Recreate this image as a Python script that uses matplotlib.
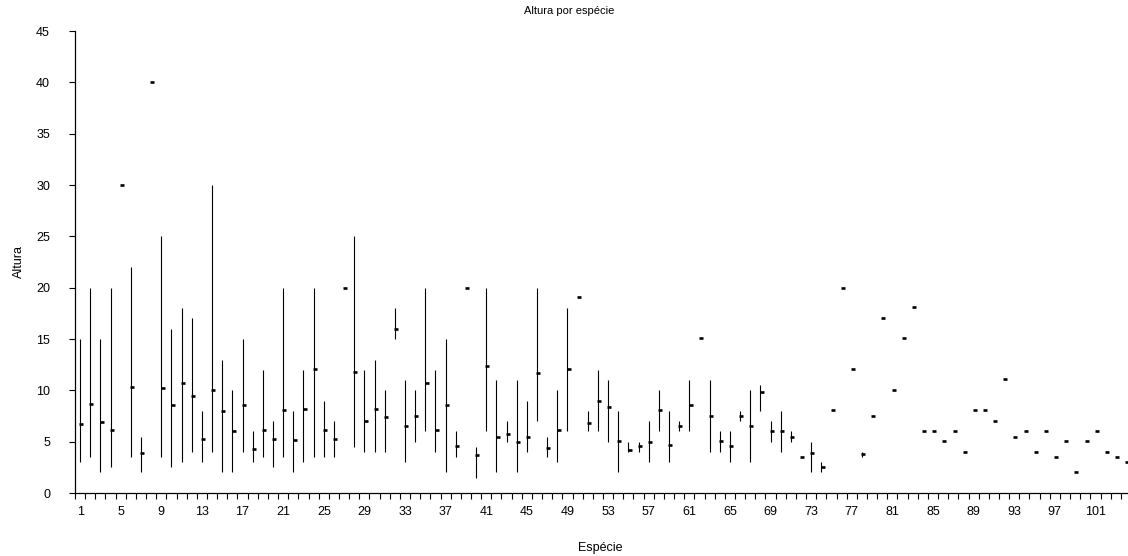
import numpy as np
import matplotlib
matplotlib.use("Agg")
import matplotlib.pyplot as plt

plt.rcParams['font.family'] = ['Liberation Sans', 'DejaVu Sans']

# espécies 1..104 : mínimo, máximo, média (nan = só um valor)
nan = np.nan
especie = np.arange(1, 105)
minimo = [3, 3.5, 2, 2.5, nan, 3.5, 2, nan, 3.5, 2.5,
          3, 4, 3, 4, 2, 2, 4, 3, 3.5, 2.5,
          3.5, 2, 3, 3.5, 3.5, 3.5, nan, 4.5, 4, 4,
          4, 15, 3, 5, 6, 4, 2, 3.5, nan, 1.5,
          6, 2, 5, 2, 4, 7, 3.5, 3, 6, nan,
          6, 6, 5, 2, 4, 4, 3, 6, 3, 6,
          6, nan, 4, 4, 3, 7, 3, 8, 5, 4,
          5, nan, 2, 2, nan, nan, nan, 3.5, nan, nan,
          nan, nan, nan, nan, nan, nan, nan, nan, nan, nan,
          nan, nan, nan, nan, nan, nan, nan, nan, nan, nan,
          nan, nan, nan, nan]
maximo = [15, 20, 15, 20, nan, 22, 5.5, nan, 25, 16,
          18, 17, 8, 30, 13, 10, 15, 6, 12, 7,
          20, 8, 12, 20, 9, 7, nan, 25, 12, 13,
          10, 18, 11, 10, 20, 12, 15, 6, nan, 4.5,
          20, 11, 7, 11, 9, 20, 5.5, 10, 18, nan,
          8, 12, 11, 8, 5, 5, 7, 10, 8, 7,
          11, nan, 11, 6, 6, 8, 10, 10.5, 7, 8,
          6, nan, 5, 3, nan, nan, nan, 4, nan, nan,
          nan, nan, nan, nan, nan, nan, nan, nan, nan, nan,
          nan, nan, nan, nan, nan, nan, nan, nan, nan, nan,
          nan, nan, nan, nan]
media = [6.7, 8.7, 6.9, 6.1, 30, 10.3, 3.9, 40, 10.2, 8.6,
         10.7, 9.4, 5.3, 10.0, 8.0, 6.0, 8.6, 4.3, 6.1, 5.3,
         8.1, 5.2, 8.2, 12.1, 6.1, 5.3, 20, 11.8, 7.0, 8.2,
         7.4, 16.0, 6.5, 7.5, 10.7, 6.1, 8.6, 4.6, 20, 3.7,
         12.4, 5.5, 5.7, 5.0, 5.5, 11.7, 4.4, 6.1, 12.1, 19.1,
         6.8, 9.0, 8.4, 5.1, 4.2, 4.6, 5.0, 8.1, 4.7, 6.5,
         8.6, 15.1, 7.5, 5.1, 4.6, 7.5, 6.5, 9.8, 6.0, 6.0,
         5.5, 3.5, 3.9, 2.5, 8.1, 20, 12.1, 3.8, 7.5, 17,
         10, 15.1, 18.1, 6, 6, 5.1, 6, 4, 8.1, 8.1,
         7, 11.1, 5.5, 6, 4, 6, 3.5, 5.1, 2, 5.1,
         6, 4, 3.5, 3]

fig = plt.figure(figsize=(11.28, 5.56), dpi=100)
ax = fig.add_axes([75 / 1128, 1 - 493 / 556, 1056 / 1128, 462 / 556])

ax.vlines(especie, minimo, maximo, color='black', lw=0.8)
# traço da média ligeiramente à direita da linha, como no original
ax.plot(especie + 0.12, media, ls='none', marker='_', ms=3, mew=1.9, color='black')

ax.set_xlim(0.5, 104.5)
ax.set_ylim(0, 45)
ax.set_yticks(range(0, 46, 5))
ax.set_xticks(range(1, 105, 4))
ax.set_xticks(np.arange(0.5, 105, 1), minor=True)
ax.tick_params(axis='x', which='major', length=0, pad=9.5, labelsize=9)
ax.tick_params(axis='x', which='minor', length=4, width=0.8, direction='out')
ax.tick_params(axis='y', length=4, width=0.8, direction='out', labelsize=9, pad=14)

for s in ['top', 'right']:
    ax.spines[s].set_visible(False)
for s in ['left', 'bottom']:
    ax.spines[s].set_linewidth(0.9)

fig.text(0.505, 0.98, 'Altura por espécie', ha='center', va='center', fontsize=8)
fig.text(0.532, 0.015, 'Espécie', ha='center', va='center', fontsize=9)
fig.text(0.017, 0.53, 'Altura', ha='center', va='center', rotation=90, fontsize=9)

fig.savefig('out.png', dpi=100)
